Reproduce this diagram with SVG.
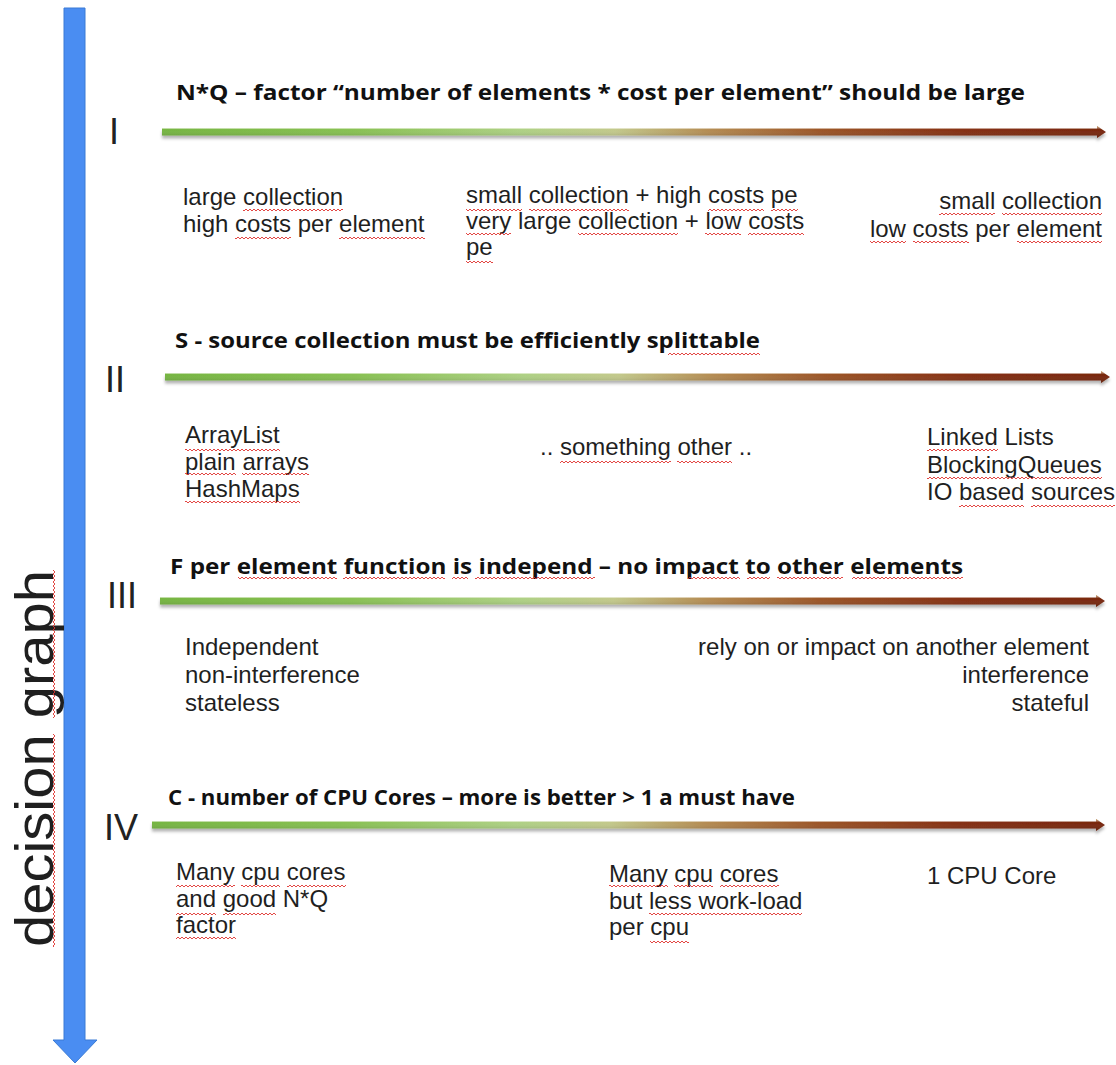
<svg xmlns="http://www.w3.org/2000/svg" width="1116" height="1065" viewBox="0 0 1116 1065">
<style>
.h{font-family:"Open Sans","Liberation Sans",sans-serif;font-weight:700;font-size:21px;fill:#111}
.t{font-family:"Liberation Sans",Arial,sans-serif;font-size:24px;fill:#1f1f1f}
.big{font-family:"Liberation Sans",Arial,sans-serif;font-size:54px;fill:#1f1f1f}
.r{font-family:"Liberation Sans",Arial,sans-serif;font-size:36px;fill:#222}
.e{text-anchor:end}
.sq{fill:url(#sqh)}
.sv{fill:url(#sqv)}
.bar{fill:url(#gh)}
.barh{fill:url(#gv)}
</style>
<defs>
<linearGradient id="gh" x1="0" y1="0" x2="1" y2="0">
<stop offset="0" stop-color="#74b43f"/>
<stop offset="0.2" stop-color="#86c050"/>
<stop offset="0.38" stop-color="#add083"/>
<stop offset="0.48" stop-color="#c2c88a"/>
<stop offset="0.58" stop-color="#b38a50"/>
<stop offset="0.7" stop-color="#9a5224"/>
<stop offset="0.85" stop-color="#832c10"/>
<stop offset="1" stop-color="#76240b"/>
</linearGradient>
<linearGradient id="gv" x1="0" y1="0" x2="0" y2="1">
<stop offset="0" stop-color="#fff0a0" stop-opacity="0.8"/>
<stop offset="0.3" stop-color="#ffffff" stop-opacity="0"/>
<stop offset="1" stop-color="#000000" stop-opacity="0.2"/>
</linearGradient>
<filter id="sh" x="-2%" y="-150%" width="104%" height="400%">
<feGaussianBlur in="SourceAlpha" stdDeviation="1.6"/>
<feOffset dy="2.5" result="b"/>
<feFlood flood-color="#000" flood-opacity="0.3"/>
<feComposite in2="b" operator="in"/>
<feMerge><feMergeNode/><feMergeNode in="SourceGraphic"/></feMerge>
</filter>
<pattern id="sqh" width="4" height="4" patternUnits="userSpaceOnUse"><path d="M0,3 L2,1 L4,3" fill="none" stroke="#e0322f" stroke-width="0.9"/></pattern>
<pattern id="sqv" width="4" height="4" patternUnits="userSpaceOnUse"><path d="M3,0 L1,2 L3,4" fill="none" stroke="#e0322f" stroke-width="0.9"/></pattern>
</defs>
<rect width="1116" height="1065" fill="#ffffff"/>

<g id="axis">
<path d="M64,8 H85 V1040 H97 L75,1063 L53,1040 H64 Z" fill="#4a8df2" stroke="#3a7bd5" stroke-width="1"/>
<text class="big" transform="translate(53,947) rotate(-90)" textLength="377" lengthAdjust="spacingAndGlyphs">decision graph</text>
<rect class="sv" x="52" y="734" width="4" height="213"/>
<rect class="sv" x="52" y="570" width="4" height="148"/>
</g>

<g id="connectors">
<g filter="url(#sh)"><path class="bar" d="M162,128.5 H1097 V126 L1106,132 L1097,138 V135.5 H162 Z"/><path class="barh" d="M162,128.5 H1097 V126 L1106,132 L1097,138 V135.5 H162 Z"/></g>
<g filter="url(#sh)"><path class="bar" d="M165,373.5 H1101 V371 L1110,377 L1101,383 V380.5 H165 Z"/><path class="barh" d="M165,373.5 H1101 V371 L1110,377 L1101,383 V380.5 H165 Z"/></g>
<g filter="url(#sh)"><path class="bar" d="M160,597.5 H1096 V595 L1105,601 L1096,607 V604.5 H160 Z"/><path class="barh" d="M160,597.5 H1096 V595 L1105,601 L1096,607 V604.5 H160 Z"/></g>
<g filter="url(#sh)"><path class="bar" d="M152,821.5 H1096 V819 L1105,825 L1096,831 V828.5 H152 Z"/><path class="barh" d="M152,821.5 H1096 V819 L1105,825 L1096,831 V828.5 H152 Z"/></g>
</g>

<g id="sec1">
<text class="r" x="109" y="144">I</text>
<text class="h" x="176" y="100" textLength="849" lengthAdjust="spacingAndGlyphs">N*Q – factor “number of elements * cost per element” should be large</text>
<text class="t" x="183" y="205">large collection</text>
<text class="t" x="183" y="232">high costs per element</text>
<text class="t" x="466" y="203">small collection + high costs pe</text>
<text class="t" x="466" y="229">very large collection + low costs</text>
<text class="t" x="466" y="255">pe</text>
<text class="t e" x="1102" y="209">small collection</text>
<text class="t e" x="1102" y="237">low costs per element</text>
<rect class="sq" x="243" y="208" width="100" height="4"/>
<rect class="sq" x="235" y="236" width="56" height="4"/>
<rect class="sq" x="339" y="236" width="86" height="4"/>
<rect class="sq" x="466" y="208" width="56" height="4"/>
<rect class="sq" x="529" y="208" width="100" height="4"/>
<rect class="sq" x="708" y="208" width="56" height="4"/>
<rect class="sq" x="771" y="208" width="27" height="4"/>
<rect class="sq" x="466" y="232" width="45" height="4"/>
<rect class="sq" x="578" y="232" width="100" height="4"/>
<rect class="sq" x="705" y="232" width="36" height="4"/>
<rect class="sq" x="748" y="232" width="56" height="4"/>
<rect class="sq" x="466" y="260" width="27" height="4"/>
<rect class="sq" x="939" y="212" width="56" height="4"/>
<rect class="sq" x="1002" y="212" width="100" height="4"/>
<rect class="sq" x="870" y="240" width="36" height="4"/>
<rect class="sq" x="913" y="240" width="56" height="4"/>
<rect class="sq" x="1017" y="240" width="85" height="4"/>
</g>

<g id="sec2">
<text class="r" x="105" y="392">II</text>
<text class="h" x="175" y="348" textLength="585" lengthAdjust="spacingAndGlyphs">S - source collection must be efficiently splittable</text>
<rect class="sq" x="668" y="352" width="92" height="4"/>
<text class="t" x="185" y="443">ArrayList</text>
<text class="t" x="185" y="470">plain arrays</text>
<text class="t" x="185" y="497">HashMaps</text>
<text class="t" x="540" y="455">.. something other ..</text>
<text class="t" x="927" y="445">Linked Lists</text>
<text class="t" x="927" y="473">BlockingQueues</text>
<text class="t" x="927" y="500">IO based sources</text>
<rect class="sq" x="185" y="448" width="95" height="4"/>
<rect class="sq" x="185" y="472" width="51" height="4"/>
<rect class="sq" x="242" y="472" width="67" height="4"/>
<rect class="sq" x="185" y="500" width="115" height="4"/>
<rect class="sq" x="560" y="460" width="111" height="4"/>
<rect class="sq" x="677" y="460" width="55" height="4"/>
<rect class="sq" x="927" y="448" width="71" height="4"/>
<rect class="sq" x="927" y="476" width="175" height="4"/>
<rect class="sq" x="959" y="504" width="65" height="4"/>
<rect class="sq" x="1031" y="504" width="84" height="4"/>
</g>

<g id="sec3">
<text class="r" x="107" y="608">III</text>
<text class="h" x="170" y="574" textLength="793" lengthAdjust="spacingAndGlyphs">F per element function is independ – no impact to other elements</text>
<rect class="sq" x="238" y="576" width="99" height="4"/>
<rect class="sq" x="343" y="576" width="102" height="4"/>
<rect class="sq" x="452" y="576" width="16" height="4"/>
<rect class="sq" x="475" y="576" width="120" height="4"/>
<rect class="sq" x="688" y="576" width="52" height="4"/>
<rect class="sq" x="747" y="576" width="23" height="4"/>
<rect class="sq" x="777" y="576" width="66" height="4"/>
<rect class="sq" x="852" y="576" width="111" height="4"/>
<text class="t" x="185" y="655">Independent</text>
<text class="t" x="185" y="683">non-interference</text>
<text class="t" x="185" y="711">stateless</text>
<text class="t e" x="1089" y="655">rely on or impact on another element</text>
<text class="t e" x="1089" y="683">interference</text>
<text class="t e" x="1089" y="711">stateful</text>
</g>

<g id="sec4">
<text class="r" x="104" y="840">IV</text>
<text class="h" x="168" y="805" textLength="627" lengthAdjust="spacingAndGlyphs">C - number of CPU Cores – more is better &gt; 1 a must have</text>
<text class="t" x="176" y="880">Many cpu cores</text>
<text class="t" x="176" y="907">and good N*Q</text>
<text class="t" x="176" y="933">factor</text>
<text class="t" x="609" y="882">Many cpu cores</text>
<text class="t" x="609" y="909">but less work-load</text>
<text class="t" x="609" y="935">per cpu</text>
<text class="t" x="927" y="884">1 CPU Core</text>
<rect class="sq" x="176" y="884" width="59" height="4"/>
<rect class="sq" x="241" y="884" width="39" height="4"/>
<rect class="sq" x="287" y="884" width="59" height="4"/>
<rect class="sq" x="176" y="912" width="40" height="4"/>
<rect class="sq" x="223" y="912" width="53" height="4"/>
<rect class="sq" x="176" y="936" width="60" height="4"/>
<rect class="sq" x="609" y="884" width="59" height="4"/>
<rect class="sq" x="674" y="884" width="39" height="4"/>
<rect class="sq" x="720" y="884" width="59" height="4"/>
<rect class="sq" x="649" y="912" width="153" height="4"/>
<rect class="sq" x="650" y="940" width="39" height="4"/>
</g>
</svg>
